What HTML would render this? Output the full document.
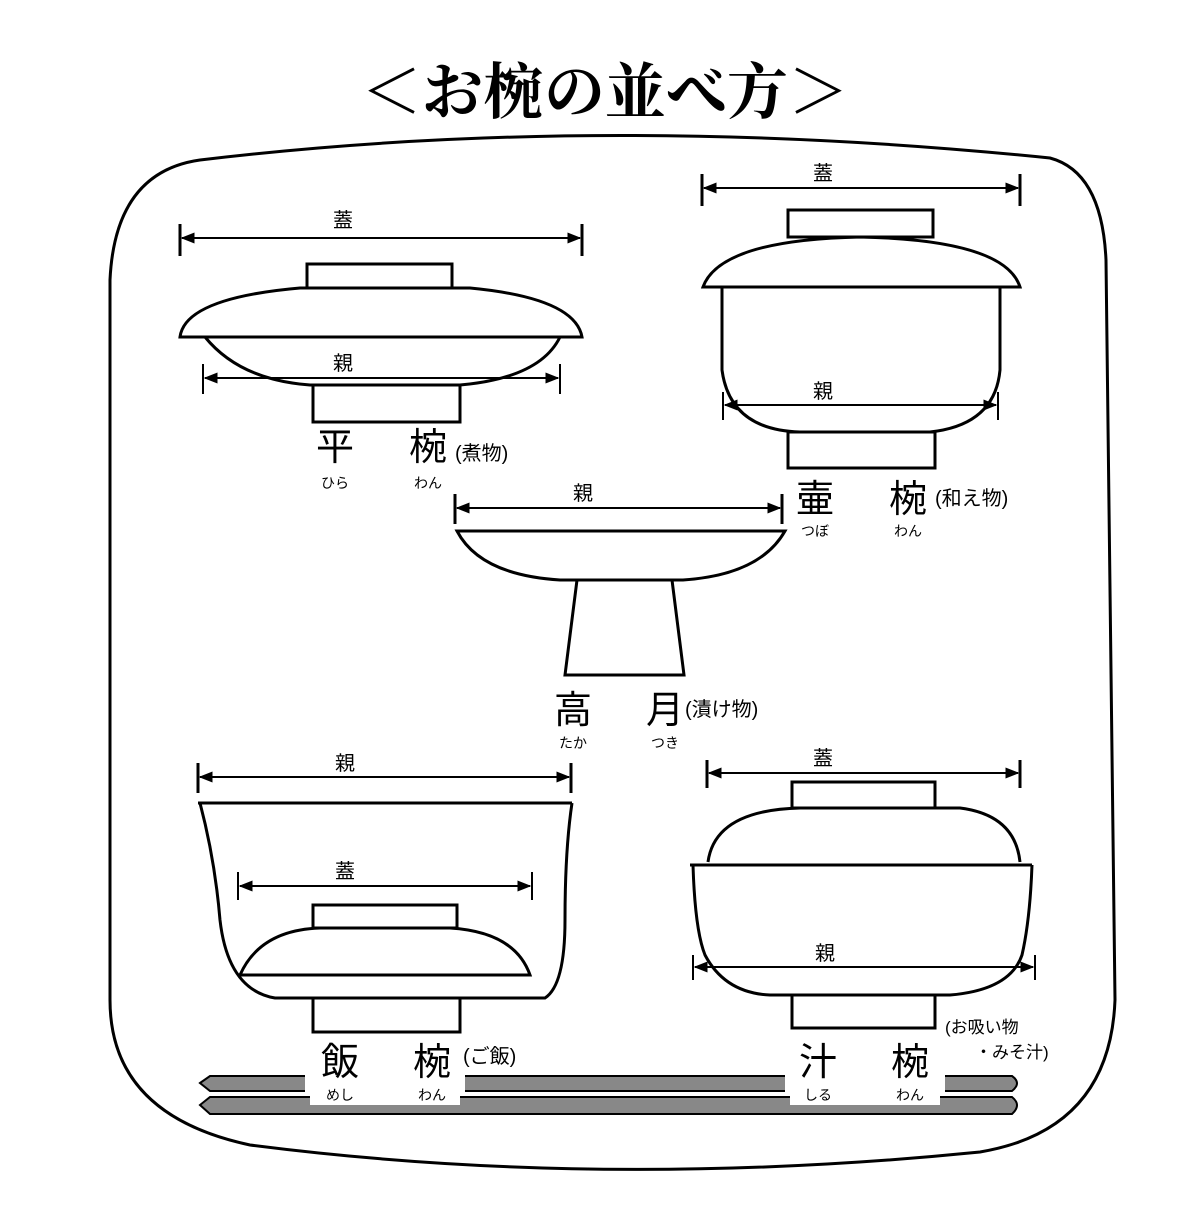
<!DOCTYPE html>
<html><head><meta charset="utf-8"><style>
html,body{margin:0;padding:0;background:#fff}
svg text{font-family:"Liberation Sans","Noto Sans CJK JP",sans-serif;fill:#000}
</style></head><body>
<svg width="1200" height="1200" viewBox="0 0 1200 1200" xmlns="http://www.w3.org/2000/svg">
<defs>
<marker id="a" viewBox="0 0 10 10" refX="9" refY="5" markerWidth="7" markerHeight="7" orient="auto-start-reverse"><path d="M0,1 L10,5 L0,9 z" fill="#000"/></marker>
</defs>
<text x="605" y="113" font-size="61" font-weight="bold" text-anchor="middle" style="font-family:'Noto Serif CJK SC','Noto Sans CJK JP',serif">＜お椀の並べ方＞</text>
<path d="M200,160 Q600,112 1050,158 Q1102,172 1106,260 L1115,1000 Q1110,1130 980,1152 Q600,1190 250,1145 Q110,1115 110,1000 L110,280 Q115,172 200,160 Z" fill="none" stroke="#000" stroke-width="3"/>
<g fill="none" stroke="#000" stroke-width="3">
<line x1="182" y1="238" x2="580" y2="238" marker-start="url(#a)" marker-end="url(#a)" stroke-width="2"/>
<line x1="180" y1="224" x2="180" y2="256"/><line x1="582" y1="224" x2="582" y2="256"/>
<rect x="307" y="264" width="145" height="24"/>
<path d="M180,337 Q185,298 300,288 L470,288 Q575,298 582,337 Z"/>
<path d="M205,337 Q240,380 310,385 L460,385 Q540,378 560,337"/>
<rect x="313" y="385" width="147" height="37"/>
<line x1="205" y1="378" x2="558" y2="378" marker-start="url(#a)" marker-end="url(#a)" stroke-width="2"/>
<line x1="203" y1="364" x2="203" y2="394" stroke-width="2"/><line x1="560" y1="364" x2="560" y2="394" stroke-width="2"/>
<line x1="704" y1="188" x2="1018" y2="188" marker-start="url(#a)" marker-end="url(#a)" stroke-width="2"/>
<line x1="702" y1="174" x2="702" y2="206"/><line x1="1020" y1="174" x2="1020" y2="206"/>
<rect x="788" y="210" width="145" height="27"/>
<path d="M703,287 Q720,240 860,237 Q1005,240 1020,287 Z"/>
<path d="M722,287 L722,370 Q730,430 800,432 L930,432 Q995,425 1000,370 L1000,287"/>
<rect x="788" y="432" width="147" height="36"/>
<line x1="725" y1="405" x2="996" y2="405" marker-start="url(#a)" marker-end="url(#a)" stroke-width="2"/>
<line x1="723" y1="392" x2="723" y2="420" stroke-width="2"/><line x1="998" y1="392" x2="998" y2="420" stroke-width="2"/>
<line x1="457" y1="508" x2="780" y2="508" marker-start="url(#a)" marker-end="url(#a)" stroke-width="2"/>
<line x1="455" y1="494" x2="455" y2="524"/><line x1="782" y1="494" x2="782" y2="524"/>
<path d="M457,531 L785,531 Q760,575 683,580 L560,580 Q480,575 457,531 Z"/>
<path d="M577,580 L565,675 L684,675 L672,580"/>
<line x1="200" y1="777" x2="569" y2="777" marker-start="url(#a)" marker-end="url(#a)" stroke-width="2"/>
<line x1="198" y1="763" x2="198" y2="793"/><line x1="571" y1="763" x2="571" y2="793"/>
<path d="M198,803 L572,803"/>
<path d="M200,803 Q215,860 220,920 Q228,990 275,998 L545,998 Q565,985 565,920 Q565,850 572,803"/>
<line x1="240" y1="886" x2="530" y2="886" marker-start="url(#a)" marker-end="url(#a)" stroke-width="2"/>
<line x1="238" y1="872" x2="238" y2="900" stroke-width="2"/><line x1="532" y1="872" x2="532" y2="900" stroke-width="2"/>
<rect x="313" y="905" width="144" height="23"/>
<path d="M240,975 Q260,930 320,928 L450,928 Q515,932 530,975 Z"/>
<rect x="313" y="998" width="147" height="34"/>
<line x1="709" y1="773" x2="1018" y2="773" marker-start="url(#a)" marker-end="url(#a)" stroke-width="2"/>
<line x1="707" y1="760" x2="707" y2="788"/><line x1="1020" y1="760" x2="1020" y2="788"/>
<rect x="792" y="782" width="143" height="26"/>
<path d="M708,862 Q715,810 800,808 L960,808 Q1015,815 1020,862"/>
<path d="M690,865 L1032,865"/>
<path d="M693,865 Q695,930 705,955 Q725,993 770,995 L950,995 Q1010,990 1022,955 Q1030,920 1032,865"/>
<line x1="695" y1="967" x2="1033" y2="967" marker-start="url(#a)" marker-end="url(#a)" stroke-width="2"/>
<line x1="693" y1="955" x2="693" y2="980" stroke-width="2"/><line x1="1035" y1="955" x2="1035" y2="980" stroke-width="2"/>
<rect x="792" y="995" width="143" height="33"/>
</g>
<g fill="#888" stroke="#000" stroke-width="2">
<path d="M200,1105 L210,1097 L1012,1097 Q1022,1105 1012,1114 L210,1114 Z"/>
<path d="M200,1083 L210,1076 L1012,1076 Q1022,1083 1012,1091 L210,1091 Z"/>
</g>
<rect x="305" y="1035" width="160" height="60" fill="#fff"/>
<rect x="785" y="1035" width="160" height="60" fill="#fff"/>
<rect x="310" y="1095" width="150" height="10" fill="#fff"/>
<rect x="790" y="1095" width="150" height="10" fill="#fff"/>
<g font-size="20" text-anchor="middle">
<text x="343" y="227">蓋</text><text x="343" y="370">親</text>
<text x="823" y="180">蓋</text><text x="823" y="398">親</text>
<text x="583" y="500">親</text>
<text x="345" y="770">親</text><text x="345" y="878">蓋</text>
<text x="823" y="765">蓋</text><text x="825" y="960">親</text>
</g>
<g font-size="38" text-anchor="middle">
<text x="335" y="460">平</text><text x="428" y="460">椀</text>
<text x="815" y="512">壷</text><text x="908" y="512">椀</text>
<text x="573" y="723">高</text><text x="665" y="723">月</text>
<text x="340" y="1075">飯</text><text x="432" y="1075">椀</text>
<text x="818" y="1075">汁</text><text x="910" y="1075">椀</text>
</g>
<g font-size="14" text-anchor="middle">
<text x="335" y="488">ひら</text><text x="428" y="488">わん</text>
<text x="815" y="536">つぼ</text><text x="908" y="536">わん</text>
<text x="573" y="748">たか</text><text x="665" y="748">つき</text>
<text x="340" y="1100">めし</text><text x="432" y="1100">わん</text>
<text x="818" y="1100">しる</text><text x="910" y="1100">わん</text>
</g>
<g font-size="20">
<text x="455" y="460">(煮物)</text>
<text x="935" y="505">(和え物)</text>
<text x="685" y="716">(漬け物)</text>
<text x="463" y="1063">(ご飯)</text>
<text x="945" y="1033" font-size="17">(お吸い物</text>
<text x="975" y="1058" font-size="17">・みそ汁)</text>
</g>
</svg>
</body></html>
